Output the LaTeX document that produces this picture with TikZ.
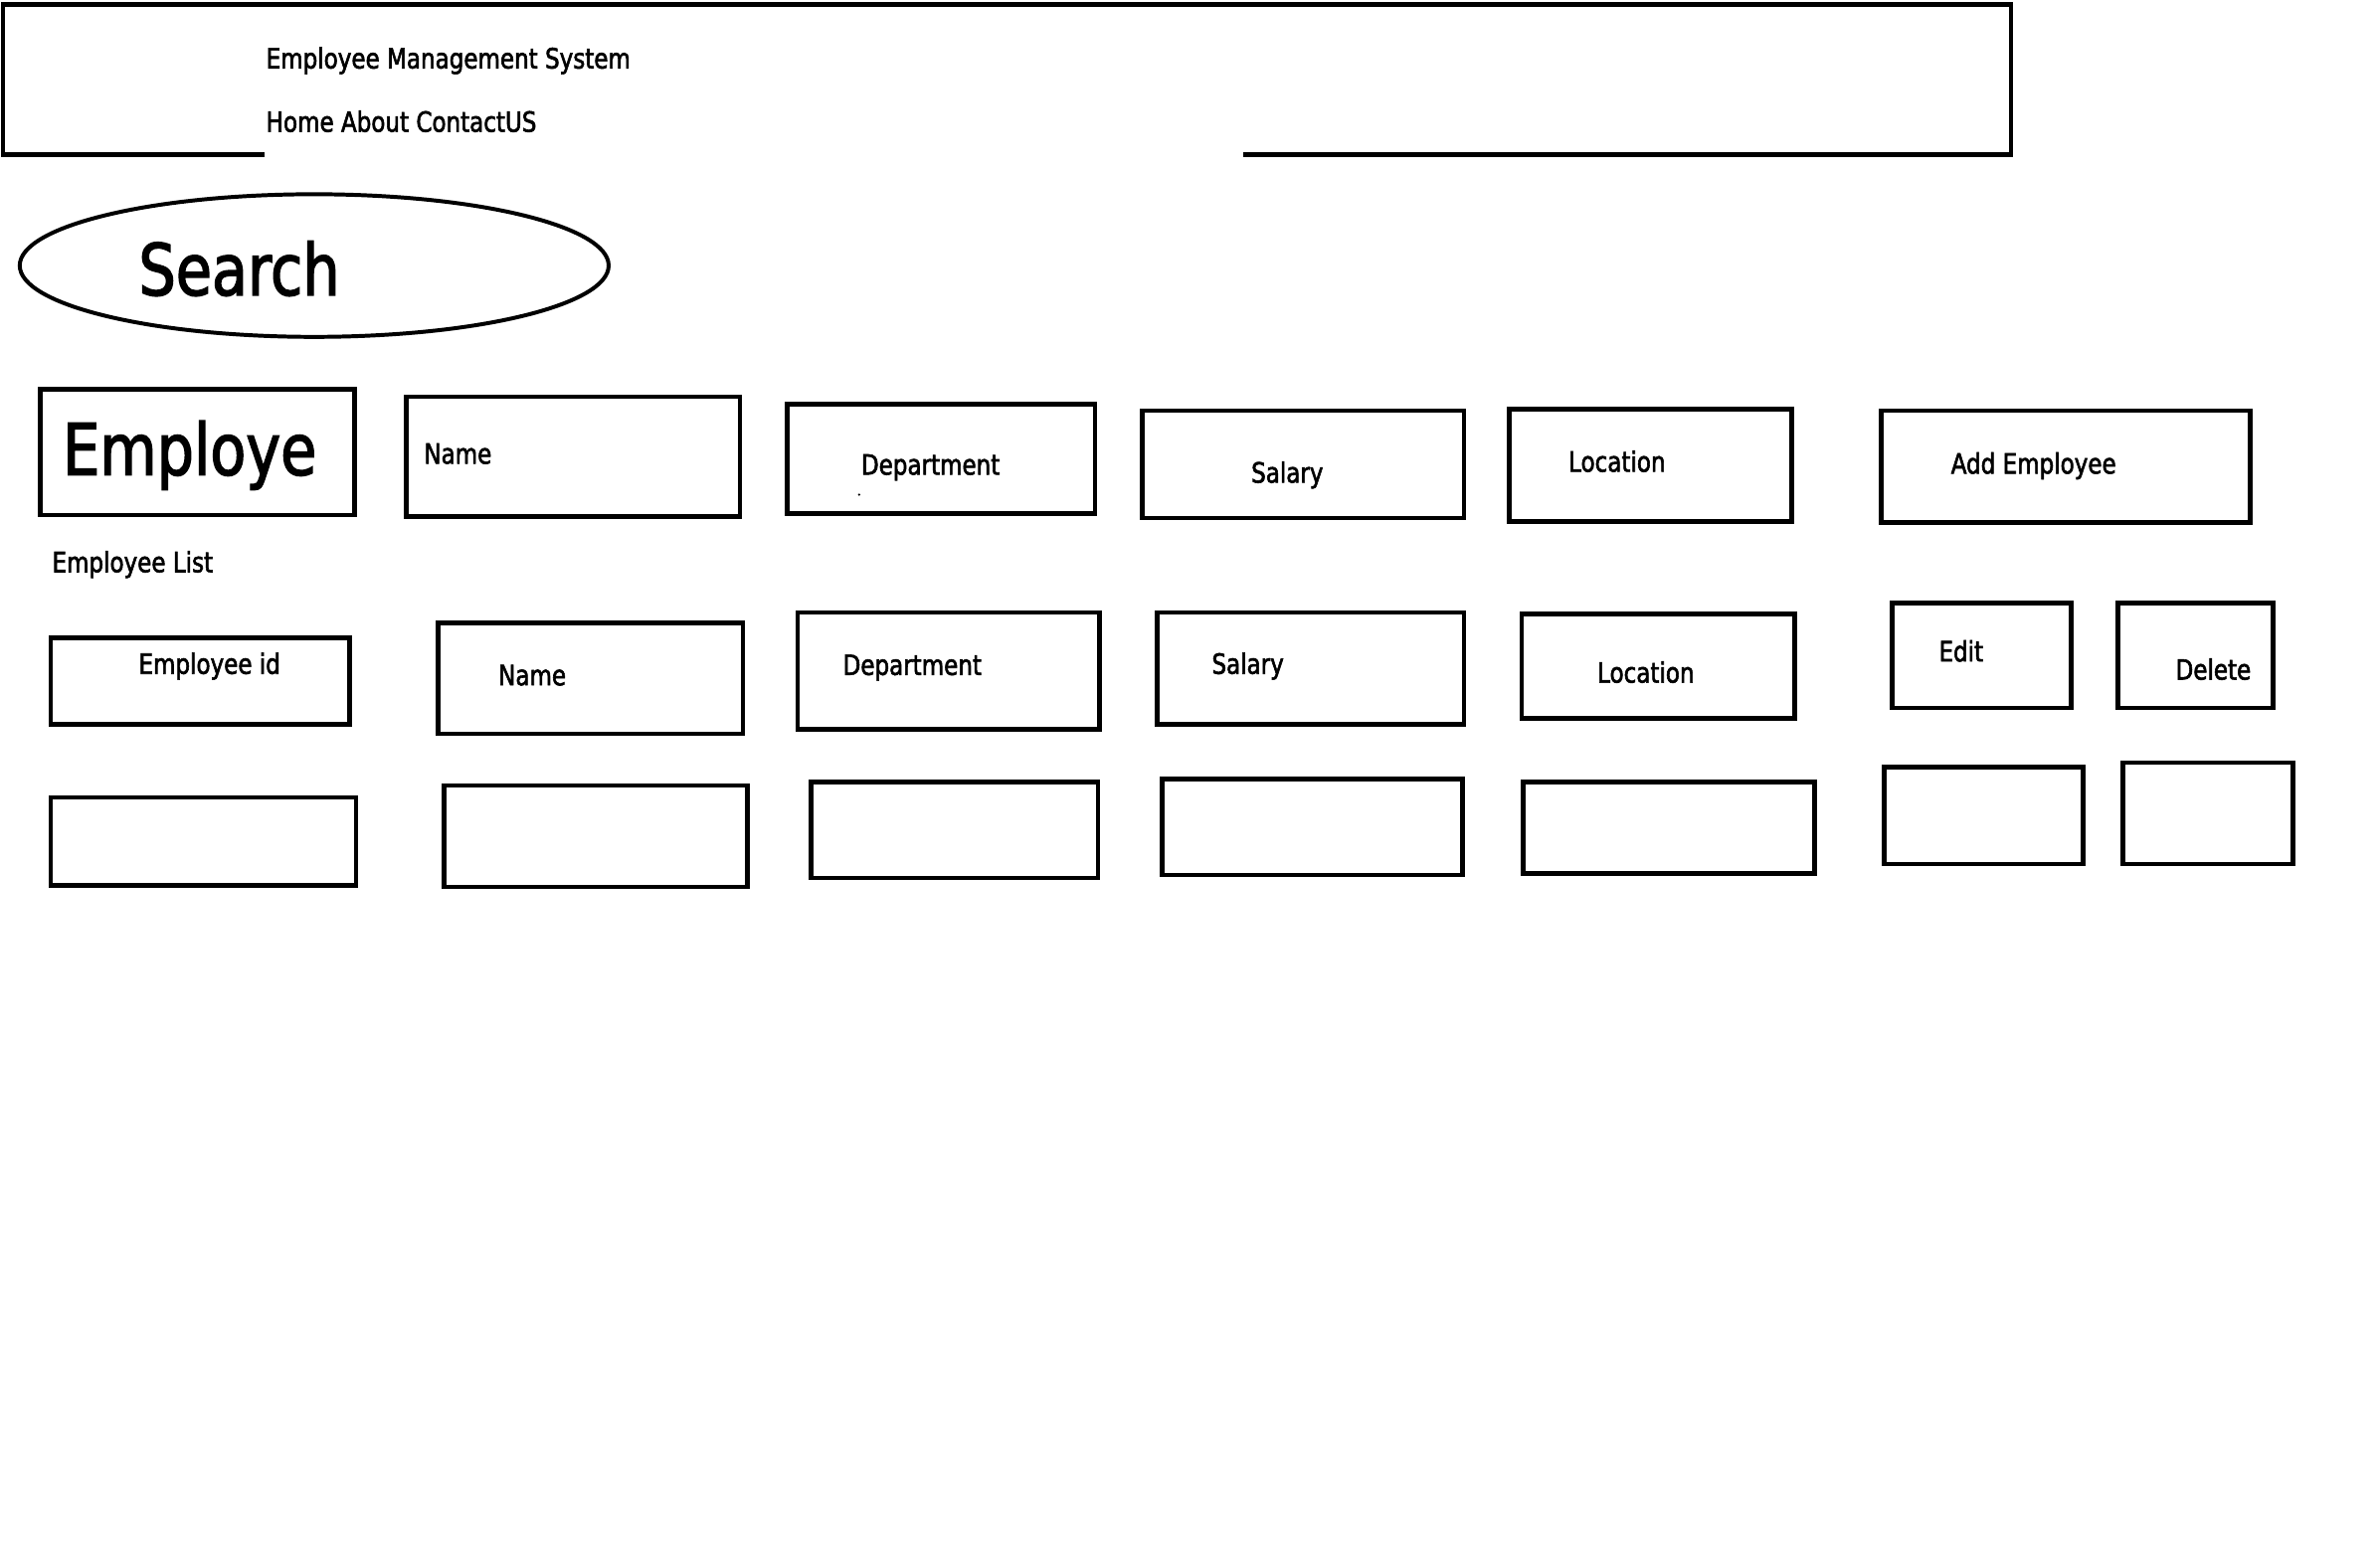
\documentclass[tikz,border=0pt]{standalone}
\usepackage{fontspec}
\setmainfont{DejaVu Sans}[FakeStretch=0.82, FakeBold=2]
\usetikzlibrary{shapes.geometric}
\tikzset{
  x=0.5pt, y=-0.5pt,
  ubox/.style={draw=black, line width=1.5pt, inner sep=0pt, rectangle},
  lbl/.style={inner sep=0pt, anchor=west, yshift=-1pt, font=\fontsize{9.2}{11}\selectfont},
  big/.style={inner sep=0pt, anchor=west, yshift=-1pt, font=\fontsize{23.5}{28}\selectfont},
}
\newcommand\ubox[5]{\node[ubox, anchor=north west, minimum width={(#4-#2)*0.5pt}, minimum height={(#5-#3)*0.5pt}] (#1) at (#2,#3) {};}
\begin{document}
\begin{tikzpicture}
\useasboundingbox (0,0) rectangle (1568,1033);
\fill[white] (0,0) rectangle (1568,1033);
% header
\coordinate (hA) at (174,102);
\coordinate (hB) at (2,102);
\coordinate (hC) at (2,3);
\coordinate (hD) at (1325,3);
\coordinate (hE) at (1325,102);
\coordinate (hF) at (819,102);
\draw[line width=1.5pt] (hA) -- (hB) -- (hC) -- (hD) -- (hE) -- (hF);
\node[lbl] (title) at (175,38) {Employee Management System};
\node[lbl] (menu) at (175,78) {Home About ContactUS};
% search
\node[draw, ellipse, line width=1.3pt, minimum width={388*0.5pt}, minimum height={94*0.5pt}, inner sep=0pt] (search) at (207,175) {};
\node[big] (searcht) at (91,175) {Search};
% row 1
\ubox{r1a}{25}{255}{232}{338}
\node[big] (r1at) at (41,298) {Employe};
\ubox{r1b}{266}{260}{486}{339}
\node[lbl] (r1bt) at (279,297) {Name};
\ubox{r1c}{517}{265}{720}{337}
\node[lbl] (r1ct) at (567,306) {Department};
\fill (566,326) circle (0.4pt);
\ubox{r1d}{751}{269}{963}{340}
\node[lbl] (r1dt) at (824,311) {Salary};
\ubox{r1e}{993}{268}{1179}{342}
\node[lbl] (r1et) at (1033,302) {Location};
\ubox{r1f}{1238}{269}{1481}{343}
\node[lbl] (r1ft) at (1285,305) {Add Employee};
\node[lbl] (elist) at (34,370) {Employee List};
% row 2
\ubox{r2a}{32}{419}{229}{476}
\node[lbl] (r2at) at (91,437) {Employee id};
\ubox{r2b}{287}{409}{488}{482}
\node[lbl] (r2bt) at (328,443) {Name};
\ubox{r2c}{524}{402}{723}{479}
\node[lbl] (r2ct) at (555,438) {Department};
\ubox{r2d}{761}{402}{963}{476}
\node[lbl] (r2dt) at (798,437) {Salary};
\ubox{r2e}{1001}{403}{1181}{472}
\node[lbl] (r2et) at (1052,441) {Location};
\ubox{r2f}{1245}{396}{1363}{465}
\node[lbl] (r2ft) at (1277,427) {Edit};
\ubox{r2g}{1394}{396}{1496}{465}
\node[lbl] (r2gt) at (1433,439) {Delete};
% row 3
\ubox{r3a}{32}{524}{233}{582}
\ubox{r3b}{291}{516}{491}{583}
\ubox{r3c}{533}{514}{722}{577}
\ubox{r3d}{764}{512}{962}{575}
\ubox{r3e}{1002}{514}{1194}{574}
\ubox{r3f}{1240}{504}{1371}{568}
\ubox{r3g}{1397}{501}{1509}{568}
\end{tikzpicture}
\end{document}
